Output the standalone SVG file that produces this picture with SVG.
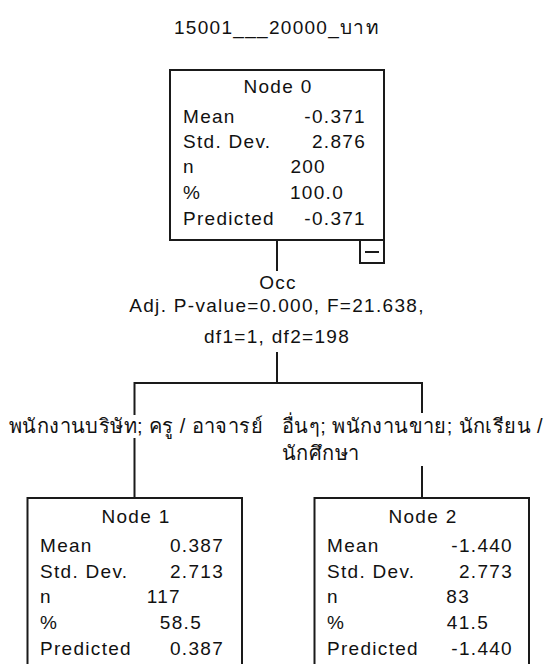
<svg xmlns="http://www.w3.org/2000/svg" width="547" height="664" viewBox="0 0 547 664">
<style>
text{font-family:"Liberation Sans","DejaVu Sans",Tahoma,sans-serif;font-size:19px;fill:#111;letter-spacing:1.3px}
.c{text-anchor:middle}
.e{text-anchor:end}
.th{letter-spacing:0.4px;font-size:20px}
.box{fill:#fff;stroke:#1a1a1a;stroke-width:2}
.ln{fill:none;stroke:#1a1a1a;stroke-width:2}
.bg{fill:#fff;stroke:none}
</style>
<rect width="547" height="664" fill="#fff"/>
<text id="title" class="c" x="277" y="34">15001___20000_บาท</text>
<g id="connectors">
<path class="ln" d="M277,240 V271"/>
<path class="ln" d="M277,352 V383 M134.5,498 V383 H422 V498"/>
</g>
<g id="node0">
<rect class="box" x="170" y="70" width="214" height="170"/>
<rect class="box" x="360" y="240" width="24" height="23"/>
<path class="ln" d="M365,252 H379"/>
<text class="c" x="278" y="93">Node 0</text>
<text x="183" y="123">Mean</text><text class="e" x="366" y="123">-0.371</text>
<text x="183" y="148">Std. Dev.</text><text class="e" x="366" y="148">2.876</text>
<text x="183" y="173">n</text><text class="e" x="326" y="173">200</text>
<text x="183" y="199">%</text><text class="e" x="344" y="199">100.0</text>
<text x="183" y="225">Predicted</text><text class="e" x="366" y="225">-0.371</text>
</g>
<g id="split">
<text class="c" x="278" y="289">Occ</text>
<text class="c" x="277" y="312">Adj. P-value=0.000, F=21.638,</text>
<text class="c" x="277" y="343">df1=1, df2=198</text>
</g>
<g id="label1">
<rect class="bg" x="8" y="415" width="256" height="23"/>
<text class="c th" x="136" y="433">พนักงานบริษัท; ครู / อาจารย์</text>
</g>
<g id="label2">
<rect class="bg" x="278" y="413" width="269" height="53"/>
<text class="th" x="282" y="433">อื่นๆ; พนักงานขาย; นักเรียน /</text>
<text class="th" x="282" y="460">นักศึกษา</text>
</g>
<g id="node1">
<path class="box" d="M27.5,670 V498 H242 V670"/>
<text class="c" x="136" y="523">Node 1</text>
<text x="40" y="552">Mean</text><text class="e" x="224" y="552">0.387</text>
<text x="40" y="578">Std. Dev.</text><text class="e" x="224" y="578">2.713</text>
<text x="40" y="603">n</text><text class="e" x="181" y="603">117</text>
<text x="40" y="629">%</text><text class="e" x="202" y="629">58.5</text>
<text x="40" y="655">Predicted</text><text class="e" x="224" y="655">0.387</text>
</g>
<g id="node2">
<path class="box" d="M314.5,670 V498 H529 V670"/>
<text class="c" x="423" y="523">Node 2</text>
<text x="327" y="552">Mean</text><text class="e" x="513" y="552">-1.440</text>
<text x="327" y="578">Std. Dev.</text><text class="e" x="513" y="578">2.773</text>
<text x="327" y="603">n</text><text class="e" x="470" y="603">83</text>
<text x="327" y="629">%</text><text class="e" x="489" y="629">41.5</text>
<text x="327" y="655">Predicted</text><text class="e" x="513" y="655">-1.440</text>
</g>
</svg>
